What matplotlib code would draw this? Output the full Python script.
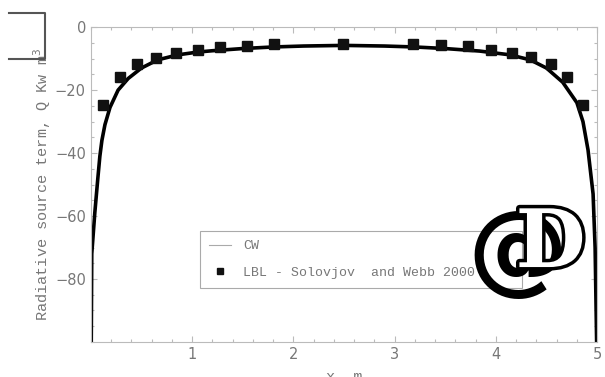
import matplotlib
matplotlib.use('Agg')
import matplotlib.pyplot as plt
import matplotlib.patheffects as pe
from matplotlib.lines import Line2D
import numpy as np

# CW curve
cw_x = [0.005, 0.01, 0.04, 0.07, 0.09, 0.11, 0.14, 0.19, 0.27, 0.37, 0.50, 0.66, 0.86,
        1.06, 1.20, 1.50, 1.80, 2.10, 2.50, 2.90, 3.20, 3.50, 3.84, 4.14, 4.34, 4.50,
        4.66, 4.80, 4.86, 4.91, 4.96, 4.98, 4.995]
cw_y = [-100, -72, -59, -48, -41, -36, -31, -25.5, -20, -16.3, -13.0, -10.4, -8.8,
        -7.9, -7.5, -6.8, -6.3, -6.0, -5.8, -6.0, -6.3, -6.8, -7.6, -8.8, -10.4, -13.0,
        -17.5, -24.0, -30.0, -39.0, -53.0, -70.0, -100]

# LBL - Solovjov and Webb 2000
lbl_x = [0.12, 0.29, 0.46, 0.64, 0.84, 1.06, 1.28, 1.54, 1.81, 2.49, 3.18, 3.46,
         3.72, 3.95, 4.16, 4.35, 4.54, 4.70, 4.86]
lbl_y = [-24.8, -15.9, -11.7, -9.8, -8.3, -7.3, -6.3, -6.0, -5.4, -5.4, -5.4, -5.7,
         -6.0, -7.3, -8.3, -9.5, -11.7, -15.9, -24.8]

grey = '#777777'

fig = plt.figure(figsize=(6.05, 3.77), dpi=100)
ax = fig.add_axes([0.150, 0.093, 0.837, 0.835])

ax.plot(cw_x, cw_y, color='black', lw=2.6, solid_joinstyle='round')
ax.plot(lbl_x, lbl_y, 's', color='#111111', ms=6.5, ls='none')

ax.set_xlim(0, 5)
ax.set_ylim(-100, 0)
ax.set_xticks([1, 2, 3, 4, 5])
ax.set_yticks([0, -20, -40, -60, -80])
ax.set_xticks(np.arange(0, 5.01, 0.2), minor=True)
ax.set_yticks(np.arange(-100, 0.1, 5), minor=True)
ax.tick_params(which='both', direction='in', top=True, right=True, color='#bbbbbb',
               labelcolor=grey, labelsize=10.5, width=0.8)
ax.tick_params(which='major', length=4)
ax.tick_params(which='minor', length=2)
for sp in ax.spines.values():
    sp.set_color('#bbbbbb')
    sp.set_linewidth(0.8)

mono = 'Liberation Mono'
ax.set_xlabel('x, m', family=mono, color=grey, fontsize=11, labelpad=6)
ax.set_ylabel('Radiative source term, Q Kw m$^3$', family=mono, color=grey,
              fontsize=11, labelpad=1)

handles = [Line2D([], [], color='#aaaaaa', lw=0.8),
           Line2D([], [], marker='s', color='#111111', ls='none', ms=5)]
leg = ax.legend(handles, ['CW', 'LBL - Solovjov  and Webb 2000'],
                loc='lower left', bbox_to_anchor=(0.215, 0.171, 0.636, 0.187),
                mode='expand', borderaxespad=0, fancybox=False, framealpha=1,
                edgecolor='#aaaaaa', prop={'family': mono, 'size': 9.5},
                labelcolor=grey, handlelength=1.7, handletextpad=0.9,
                borderpad=0.7, labelspacing=1.1)
leg.get_frame().set_linewidth(0.8)

# logo overlay
fig.text(0.855, 0.325, '@', fontsize=72, fontweight='bold', color='black',
         ha='center', va='center', family='DejaVu Sans')
fig.text(0.910, 0.350, 'D', fontsize=58, fontweight='bold',
         color='white', ha='center', va='center', family='DejaVu Serif',
         path_effects=[pe.Stroke(linewidth=5, foreground='black'), pe.Normal()])

# box at top-left corner
fig.add_artist(Line2D([9/605, 45/605, 45/605, 9/605],
                      [1 - 13/377, 1 - 13/377, 1 - 59/377, 1 - 59/377],
                      color='#555555', lw=1.5))

fig.savefig('out.png', dpi=100)
